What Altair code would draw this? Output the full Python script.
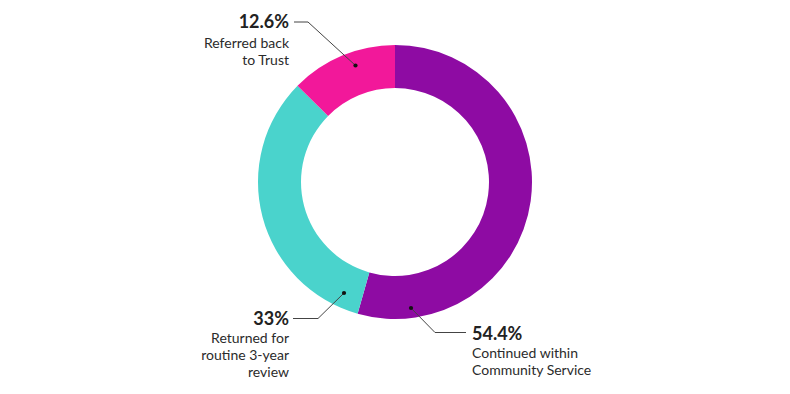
import math
import altair as alt
import pandas as pd

# ---- data ----
categories = ["Continued within\nCommunity Service", "Returned for\nroutine 3-year\nreview", "Referred back\nto Trust"]
values = [54.4, 33, 12.6]
colors = ["#8E0BA3", "#4AD3CC", "#F2189A"]

# ---- annotation layout (pixels) ----
W, H = 790, 364
dots = [(411, 308), (344, 293), (355.5, 65.5)]
elbows = [(435, 332.5), (318, 318.5), (308, 22)]
ends = [(466, 332.5), (293, 318.5), (294, 22)]
pct_pos = [(472, 340, "left"), (289, 325, "right"), (289, 28, "right")]
lab_pos = [(472, 357.5, "left"), (289, 343, "right"), (289, 48, "right")]

df = pd.DataFrame({"category": categories, "value": values, "idx": range(len(values))})

arc = alt.Chart(df).mark_arc(innerRadius=94, outerRadius=137).encode(
    theta=alt.Theta("value:Q", stack=True),
    color=alt.Color("category:N", scale=alt.Scale(domain=categories, range=colors), legend=None),
    order=alt.Order("idx:Q"),
)

xs = alt.Scale(domain=[0, W], range=[0, W])
ys = alt.Scale(domain=[0, H], range=[0, H])

line_rows = []
for i, c in enumerate(categories):
    for s, p in enumerate([dots[i], elbows[i], ends[i]]):
        line_rows.append({"category": c, "seq": s, "px": p[0], "py": p[1]})
lines_df = pd.DataFrame(line_rows)

lines = alt.Chart(lines_df).mark_line(color="#444444", strokeWidth=1).encode(
    x=alt.X("px:Q", scale=xs, axis=None),
    y=alt.Y("py:Q", scale=ys, axis=None),
    detail="category:N",
    order="seq:Q",
)

dot_df = pd.DataFrame({"category": categories, "px": [d[0] for d in dots], "py": [d[1] for d in dots]})
dot_layer = alt.Chart(dot_df).mark_circle(color="#111111", size=18, opacity=1).encode(
    x=alt.X("px:Q", scale=xs, axis=None),
    y=alt.Y("py:Q", scale=ys, axis=None),
)

text_layers = []
for i, c in enumerate(categories):
    pct = f"{values[i]:g}%"
    px, py, al = pct_pos[i]
    t1 = alt.Chart(pd.DataFrame({"t": [pct], "px": [px], "py": [py]})).mark_text(
        font="Lato", fontSize=18, fontWeight="bold", color="#222222", align=al, baseline="alphabetic"
    ).encode(x=alt.X("px:Q", scale=xs, axis=None), y=alt.Y("py:Q", scale=ys, axis=None), text="t:N")
    lx, ly, la = lab_pos[i]
    t2 = alt.Chart(pd.DataFrame({"t": [c], "px": [lx], "py": [ly]})).mark_text(
        font="Lato", fontSize=14, color="#2b2b2b", align=la, baseline="alphabetic",
        lineBreak="\n", lineHeight=17
    ).encode(x=alt.X("px:Q", scale=xs, axis=None), y=alt.Y("py:Q", scale=ys, axis=None), text="t:N")
    text_layers += [t1, t2]

chart = alt.layer(arc, lines, dot_layer, *text_layers).properties(
    width=W, height=H,
    autosize=alt.AutoSizeParams(type="none"),
    padding={"left": 0, "top": 0, "right": 0, "bottom": 30},
).configure(background="white", view=alt.ViewConfig(stroke=None))

chart.save("out.html", embed_options={"renderer": "svg", "actions": False})
